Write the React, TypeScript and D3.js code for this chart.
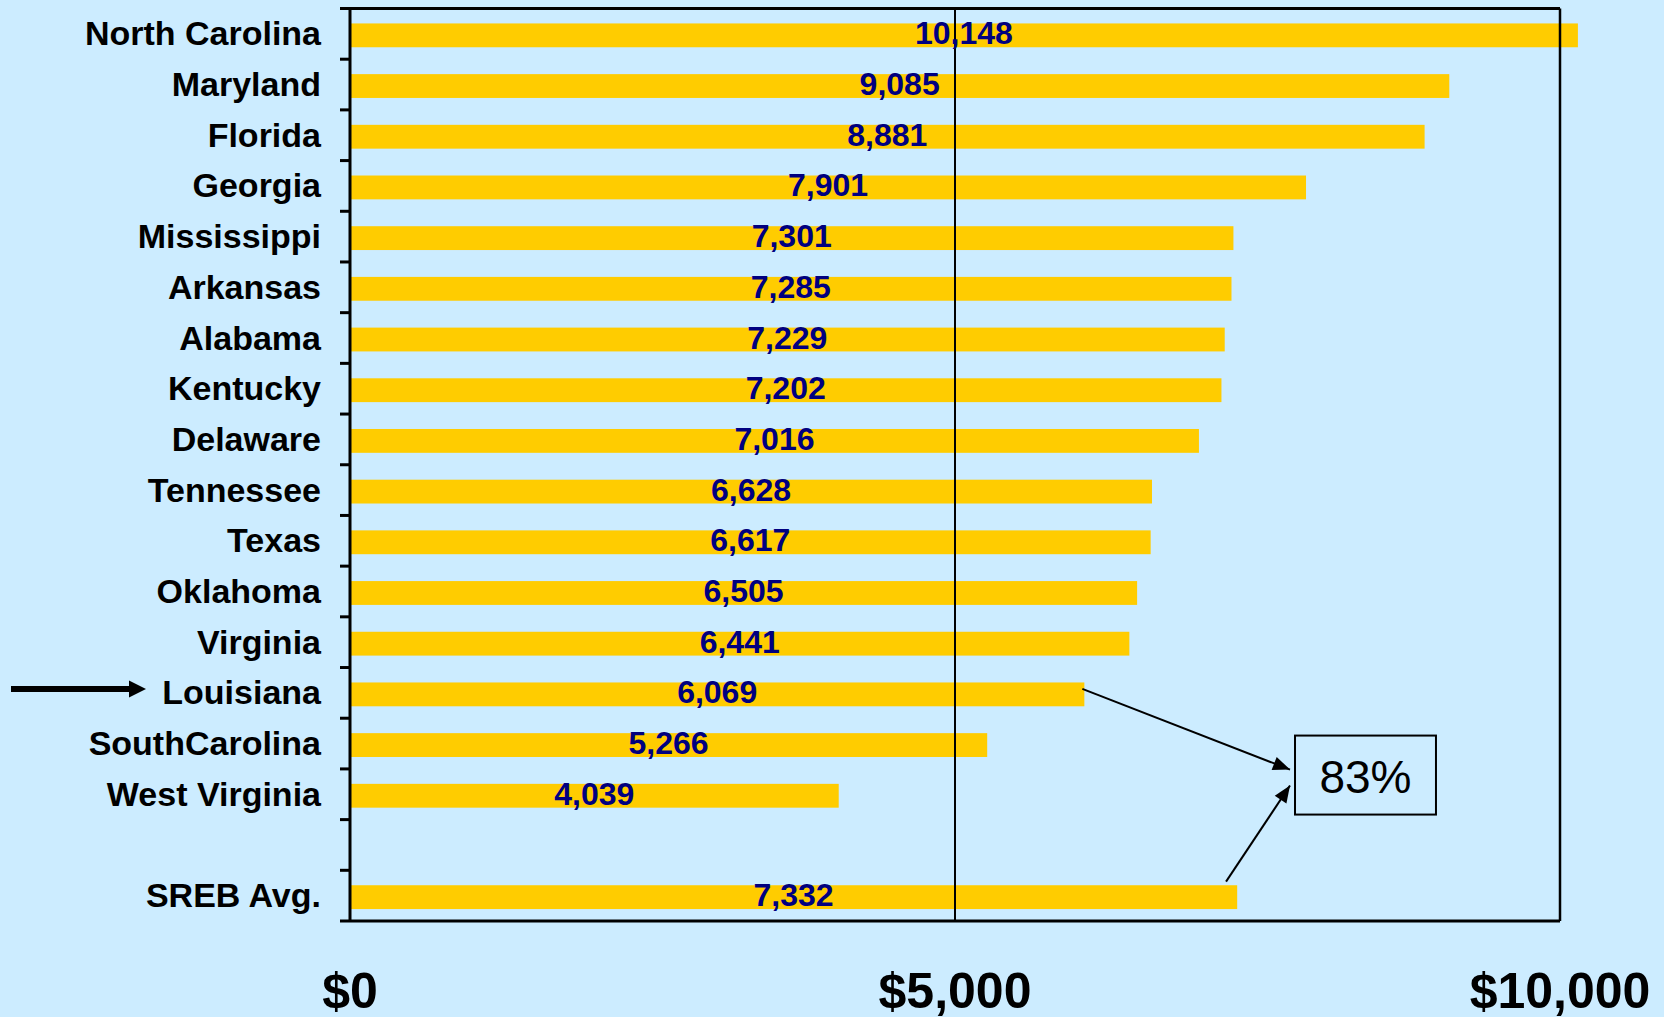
import React from "react";
import * as d3 from "d3";

const states = [
  "North Carolina", "Maryland", "Florida", "Georgia", "Mississippi", "Arkansas",
  "Alabama", "Kentucky", "Delaware", "Tennessee", "Texas", "Oklahoma", "Virginia",
  "Louisiana", "SouthCarolina", "West Virginia", "", "SREB Avg.",
];
const values: (number | null)[] = [
  10148, 9085, 8881, 7901, 7301, 7285, 7229, 7202, 7016, 6628, 6617, 6505, 6441,
  6069, 5266, 4039, null, 7332,
];
const xTicks = [0, 5000, 10000];
const highlight = "Louisiana";
const ratioLabel = "83%";

const W = 1664;
const H = 1017;
const BG = "#CCECFF";
const BAR = "#FFCC00";
const NAVY = "#000080";
const FONT = "'Liberation Sans', Arial, Helvetica, sans-serif";

export default function App() {
  const x = d3.scaleLinear().domain([0, 10000]).range([350, 1560]);
  const keys = states.map((s, i) => (s === "" ? `__blank${i}` : s));
  const y = d3.scaleBand<string>().domain(keys).range([8.5, 921]).padding(0);
  const step = y.step();
  const barH = step * 0.47;
  const cy = (k: string) => (y(k) as number) + step / 2;
  const fmt = d3.format(",");
  const money = (v: number) => "$" + d3.format(",")(v);

  const x0 = x(0);
  const top = y.range()[0];
  const bottom = y.range()[1];

  // annotation geometry
  const boxX0 = x(7810);
  const boxX1 = x(8975);
  const boxY0 = cy("SouthCarolina") - 8;
  const boxY1 = boxY0 + 79;
  const laY = cy("Louisiana") - 4;
  const laX = x(6069) - 2;
  const srebX = x(7240);
  const srebY = cy("SREB Avg.") - 14;
  const tip1 = [boxX0 - 5, boxY0 + 34];
  const tip2 = [boxX0 - 5, boxY0 + 50];

  const arrowHead = (sx: number, sy: number, tx: number, ty: number, len: number, half: number) => {
    const a = Math.atan2(ty - sy, tx - sx);
    const bx = tx - len * Math.cos(a);
    const by = ty - len * Math.sin(a);
    const px = -Math.sin(a) * half;
    const py = Math.cos(a) * half;
    return `M${tx},${ty}L${bx + px},${by + py}L${bx - px},${by - py}Z`;
  };

  const hlY = cy(highlight);

  return (
    <svg
      width={W}
      height={H}
      style={{ position: "absolute", left: 0, top: 0, display: "block", background: BG }}
      fontFamily={FONT}
    >
      <rect x={0} y={0} width={W} height={H} fill={BG} />
      {/* bars */}
      {keys.map((k, i) =>
        values[i] == null ? null : (
          <rect
            key={k}
            x={x0}
            y={cy(k) - barH / 2 + 1.5}
            width={x(values[i] as number) - x0}
            height={barH}
            fill={BAR}
          />
        )
      )}
      {/* 5000 gridline */}
      <line x1={x(5000)} x2={x(5000)} y1={top} y2={bottom} stroke="#000" strokeWidth={2} />
      {/* frame */}
      <line x1={x0 - 10} x2={x(10000)} y1={top} y2={top} stroke="#000" strokeWidth={3} />
      <line x1={x(10000)} x2={x(10000)} y1={top} y2={bottom} stroke="#000" strokeWidth={2.5} />
      <line x1={x0 - 10} x2={x(10000)} y1={bottom} y2={bottom} stroke="#000" strokeWidth={3} />
      <line x1={x0} x2={x0} y1={top} y2={bottom} stroke="#000" strokeWidth={3} />
      {/* category ticks */}
      {keys.map((k) => (
        <line key={"t" + k} x1={x0 - 10} x2={x0} y1={y(k) as number} y2={y(k) as number} stroke="#000" strokeWidth={3} />
      ))}
      {/* value labels */}
      {keys.map((k, i) =>
        values[i] == null ? null : (
          <text
            key={"v" + k}
            x={(x0 + x(values[i] as number)) / 2}
            y={cy(k) + 10.5}
            textAnchor="middle"
            fontSize={32}
            fontWeight="bold"
            fill={NAVY}
          >
            {fmt(values[i] as number)}
          </text>
        )
      )}
      {/* category labels */}
      {keys.map((k, i) => (
        <text
          key={"c" + k}
          x={321}
          y={cy(k) + 11.5}
          textAnchor="end"
          fontSize={34}
          fontWeight="bold"
          fill="#000"
        >
          {states[i]}
        </text>
      ))}
      {/* x tick labels */}
      {xTicks.map((t) => (
        <text key={"x" + t} x={x(t)} y={1008} textAnchor="middle" fontSize={50} fontWeight="bold" fill="#000">
          {money(t)}
        </text>
      ))}
      {/* left highlight arrow */}
      <line x1={11} x2={131} y1={hlY - 4} y2={hlY - 4} stroke="#000" strokeWidth={6} />
      <path d={`M146,${hlY - 4}L129,${hlY - 12.5}L129,${hlY + 4.5}Z`} fill="#000" />
      {/* annotation arrows */}
      <line x1={laX} y1={laY} x2={tip1[0]} y2={tip1[1]} stroke="#000" strokeWidth={2} />
      <path d={arrowHead(laX, laY, tip1[0], tip1[1], 17, 7)} fill="#000" />
      <line x1={srebX} y1={srebY} x2={tip2[0]} y2={tip2[1]} stroke="#000" strokeWidth={2} />
      <path d={arrowHead(srebX, srebY, tip2[0], tip2[1], 17, 7)} fill="#000" />
      {/* ratio box */}
      <rect x={boxX0} y={boxY0} width={boxX1 - boxX0} height={boxY1 - boxY0} fill="none" stroke="#000" strokeWidth={2} />
      <text x={(boxX0 + boxX1) / 2} y={boxY0 + 57} textAnchor="middle" fontSize={46} fill="#000">
        {ratioLabel}
      </text>
    </svg>
  );
}
